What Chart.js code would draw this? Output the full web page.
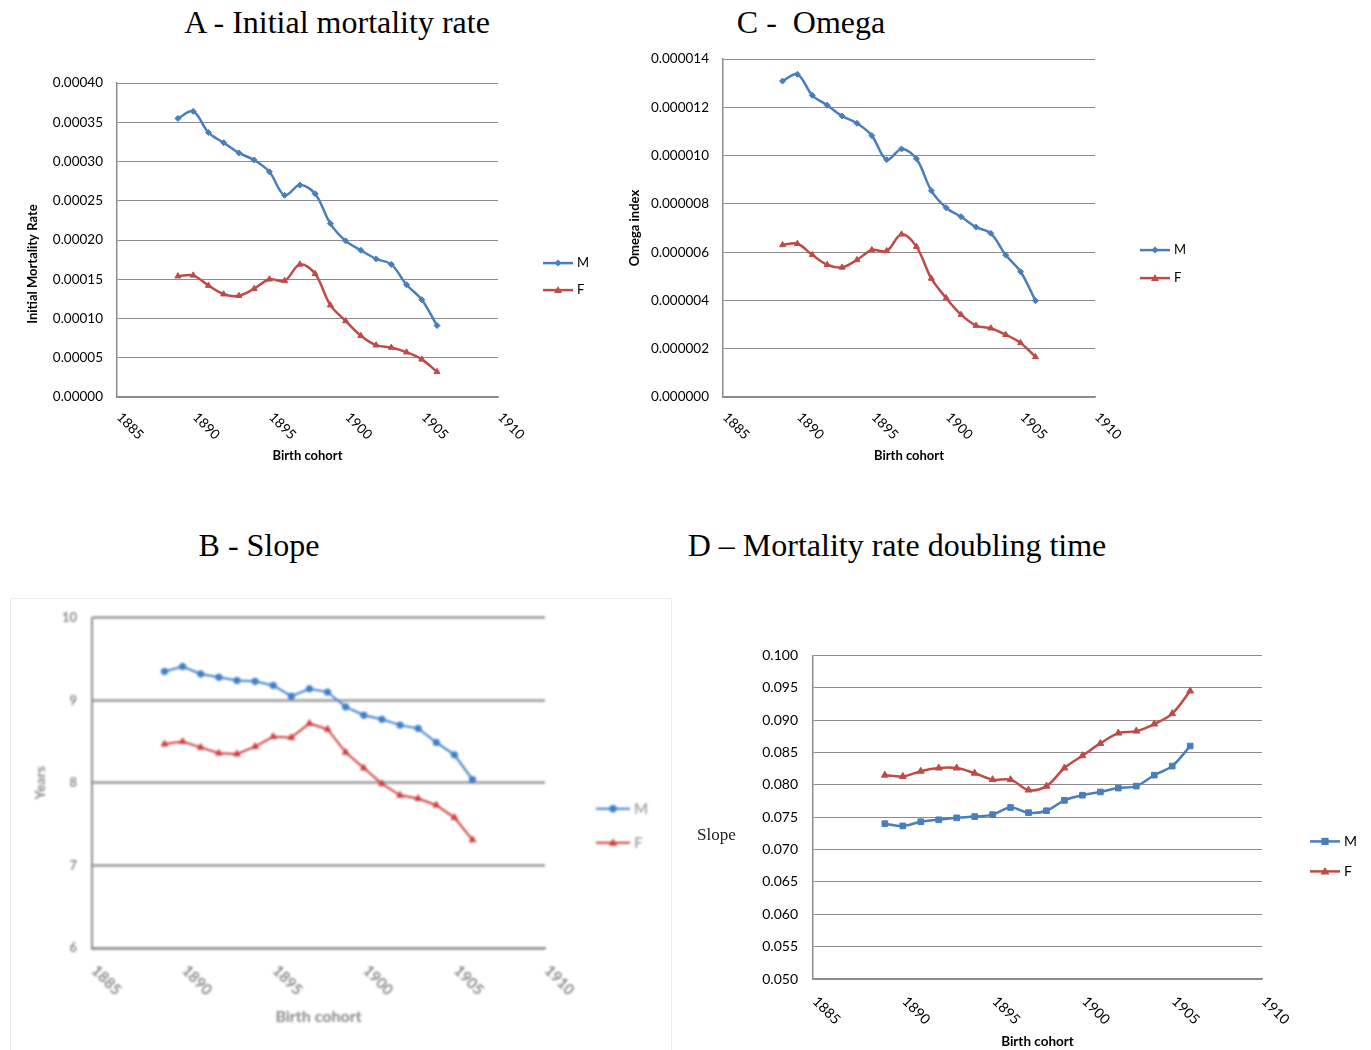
<!DOCTYPE html>
<html>
<head>
<meta charset="utf-8">
<script src="https://cdn.jsdelivr.net/npm/chart.js@4.4.1/dist/chart.umd.min.js"></script>
<style>
html, body { margin: 0; padding: 0; background: #fff; width: 1371px; height: 1050px; overflow: hidden; }
canvas { position: absolute; }
.ttl { position: absolute; font-family: "Liberation Serif", "Times New Roman", serif; font-size: 32px; line-height: 36px; color: #000; white-space: nowrap; transform: translateX(-50%); }
#frameB { position: absolute; left: 10px; top: 598px; width: 660px; height: 460px; border: 1px solid #ececec; }
#chartB { filter: blur(0.8px); }
</style>
</head>
<body>
<div class="ttl" style="left:337px; top:4px;">A - Initial mortality rate</div>
<div class="ttl" style="left:811px; top:4px;">C -&nbsp; Omega</div>
<div class="ttl" style="left:259px; top:527px;">B - Slope</div>
<div class="ttl" style="left:897px; top:527px;">D – Mortality rate doubling time</div>
<div id="frameB"></div>
<canvas id="chartA"></canvas>
<canvas id="chartC"></canvas>
<canvas id="chartB"></canvas>
<canvas id="chartD"></canvas>

<script>
// birth cohorts and x-axis labels
var years = [1889, 1890, 1891, 1892, 1893, 1894, 1895, 1896, 1897, 1898, 1899, 1900, 1901, 1902, 1903, 1904, 1905, 1906];
var xTicks = [1885, 1890, 1895, 1900, 1905, 1910];

// A - initial mortality rate
var initRateM = [0.000355, 0.000364, 0.000337, 0.000324, 0.000311, 0.000302, 0.000287, 0.000257, 0.000270, 0.000259, 0.000221, 0.000199, 0.000187, 0.000176, 0.000169, 0.000143, 0.000124, 0.000091];
var initRateF = [0.000154, 0.000155, 0.000142, 0.000131, 0.000129, 0.000138, 0.000150, 0.000148, 0.000169, 0.000157, 0.000117, 0.000097, 0.000078, 0.000066, 0.000063, 0.000057, 0.000048, 0.000032];

// C - omega index
var omegaM = [13.09e-6, 13.37e-6, 12.50e-6, 12.09e-6, 11.64e-6, 11.34e-6, 10.83e-6, 9.83e-6, 10.28e-6, 9.87e-6, 8.55e-6, 7.84e-6, 7.47e-6, 7.04e-6, 6.78e-6, 5.88e-6, 5.19e-6, 3.99e-6];
var omegaF = [6.30e-6, 6.35e-6, 5.89e-6, 5.48e-6, 5.37e-6, 5.68e-6, 6.09e-6, 6.05e-6, 6.74e-6, 6.23e-6, 4.91e-6, 4.10e-6, 3.41e-6, 2.96e-6, 2.85e-6, 2.58e-6, 2.24e-6, 1.66e-6];

// B - slope (years)
var slopeM = [9.35, 9.41, 9.32, 9.28, 9.24, 9.23, 9.18, 9.05, 9.14, 9.10, 8.92, 8.82, 8.77, 8.70, 8.66, 8.49, 8.34, 8.04];
var slopeF = [8.47, 8.50, 8.43, 8.36, 8.35, 8.44, 8.56, 8.55, 8.72, 8.65, 8.37, 8.18, 7.99, 7.85, 7.81, 7.73, 7.58, 7.31];

// D - mortality rate doubling time
var doublingM = [0.0740, 0.07365, 0.0743, 0.0746, 0.0749, 0.0751, 0.0754, 0.0765, 0.0757, 0.0760, 0.0776, 0.0784, 0.0789, 0.0795, 0.0798, 0.0815, 0.0829, 0.0860];
var doublingF = [0.0815, 0.0813, 0.0821, 0.0826, 0.0826, 0.0818, 0.0808, 0.0808, 0.0792, 0.0798, 0.0826, 0.0845, 0.0864, 0.0880, 0.0883, 0.0894, 0.0910, 0.0945];

var BLUE = '#4a7ebb';
var RED = '#be4b48';

function drawMarker(ctx, style, x, y, r) {
    ctx.beginPath();
    if (style === 'rectRot') {
        ctx.moveTo(x, y - r); ctx.lineTo(x + r, y); ctx.lineTo(x, y + r); ctx.lineTo(x - r, y);
    } else if (style === 'triangle') {
        ctx.moveTo(x, y - r); ctx.lineTo(x + r, y + r * 0.7); ctx.lineTo(x - r, y + r * 0.7);
    } else if (style === 'rect') {
        ctx.rect(x - r * 0.8, y - r * 0.8, r * 1.6, r * 1.6);
    } else {
        ctx.arc(x, y, r, 0, Math.PI * 2);
    }
    ctx.closePath();
    ctx.fill();
}

// rotated x labels, legend and extra axis text
var extras = {
    id: 'extras',
    afterDraw: function(chart, args, o) {
        var ctx = chart.ctx, area = chart.chartArea, xs = chart.scales.x;
        ctx.save();
        ctx.fillStyle = o.color;
        ctx.font = o.tickFont;
        ctx.textAlign = 'left';
        ctx.textBaseline = 'middle';
        xTicks.forEach(function(v) {
            ctx.save();
            ctx.translate(xs.getPixelForValue(v) + 2, area.bottom + o.tickGap);
            ctx.rotate(Math.PI / 4);
            ctx.fillText(String(v), 0, 0);
            ctx.restore();
        });

        chart.data.datasets.forEach(function(ds, i) {
            var x0 = area.right + o.legX, y = area.top + o.legY + i * o.legGap;
            ctx.strokeStyle = ds.borderColor;
            ctx.fillStyle = ds.borderColor;
            ctx.lineWidth = ds.borderWidth;
            ctx.beginPath();
            ctx.moveTo(x0, y);
            ctx.lineTo(x0 + o.legLen, y);
            ctx.stroke();
            drawMarker(ctx, ds.pointStyle, x0 + o.legLen / 2, y, ds.pointRadius + 0.5);
            ctx.fillStyle = o.legColor;
            ctx.font = o.legFont;
            ctx.fillText(ds.label, x0 + o.legLen + 4, y);
        });

        if (o.sideTitle) {
            ctx.fillStyle = o.sideColor || '#222';
            ctx.font = o.sideFont;
            if (o.sideRotate) {
                ctx.save();
                ctx.translate(area.left + o.sideX, area.top + o.sideY);
                ctx.rotate(-Math.PI / 2);
                ctx.textAlign = 'center';
                ctx.fillText(o.sideTitle, 0, 0);
                ctx.restore();
            } else {
                ctx.fillText(o.sideTitle, area.left + o.sideX, area.top + o.sideY);
            }
        }
        ctx.restore();
    }
};

function series(label, values, color, style, radius, width, tension) {
    return {
        label: label,
        data: years.map(function(y, i) { return { x: y, y: values[i] }; }),
        borderColor: color,
        backgroundColor: color,
        pointBackgroundColor: color,
        pointBorderColor: color,
        pointStyle: style,
        pointRadius: radius,
        pointBorderWidth: 1,
        borderWidth: width,
        tension: tension,
        fill: false
    };
}

function makeChart(id, geo, datasets, yOpt, look) {
    var canvas = document.getElementById(id);
    var w = geo.r - geo.l + geo.yW + geo.padR;
    var h = geo.b - geo.t + geo.padT + geo.xH;
    canvas.width = w;
    canvas.height = h;
    canvas.style.left = (geo.l - geo.yW) + 'px';
    canvas.style.top = (geo.t - geo.padT) + 'px';

    return new Chart(canvas.getContext('2d'), {
        type: 'line',
        data: { datasets: datasets },
        plugins: [extras],
        options: {
            responsive: false,
            animation: false,
            layout: { padding: { left: 0, top: geo.padT, right: geo.padR, bottom: 0 } },
            plugins: {
                legend: { display: false },
                tooltip: { enabled: false },
                extras: look.extras
            },
            scales: {
                x: {
                    type: 'linear',
                    min: 1885,
                    max: 1910,
                    ticks: { display: false, stepSize: 5 },
                    grid: { display: false },
                    border: { display: true, color: look.axisColor, width: look.axisWidth },
                    title: {
                        display: true,
                        text: 'Birth cohort',
                        color: look.textColor,
                        font: look.xTitleFont,
                        padding: { top: 0, bottom: geo.xTitlePad }
                    },
                    afterFit: function(s) { s.height = geo.xH; }
                },
                y: {
                    min: yOpt.min,
                    max: yOpt.max,
                    ticks: {
                        stepSize: yOpt.step,
                        color: look.textColor,
                        font: look.tickFont,
                        padding: geo.tickPad,
                        callback: yOpt.format
                    },
                    grid: { color: look.gridColor, lineWidth: look.gridWidth, drawTicks: false },
                    border: { display: true, color: look.axisColor, width: look.axisWidth },
                    title: {
                        display: !!yOpt.title,
                        text: yOpt.title || '',
                        color: look.textColor,
                        font: look.yTitleFont,
                        padding: { top: geo.yTitlePad, bottom: 0 }
                    },
                    afterFit: function(s) { s.width = geo.yW; }
                }
            }
        }
    });
}

var SANS = 'Lato, "Liberation Sans", Arial, sans-serif';

// A - Initial mortality rate
makeChart('chartA',
    { l: 117, t: 81, r: 498, b: 397, yW: 110, padT: 20, padR: 100, xH: 75, tickPad: 14, yTitlePad: 18, xTitlePad: 8 },
    [series('M', initRateM, BLUE, 'rectRot', 3, 2.5, 0.35), series('F', initRateF, RED, 'triangle', 3.5, 2.5, 0.35)],
    { min: 0, max: 0.0004, step: 0.00005, title: '', format: function(v) { return v.toFixed(5); } },
    {
        textColor: '#000', gridColor: '#8c8c8c', gridWidth: 1, axisColor: '#8c8c8c', axisWidth: 1.5,
        tickFont: { family: SANS, size: 13.5 }, xTitleFont: { family: SANS, size: 13, weight: 'bold' }, yTitleFont: { family: SANS, size: 13, weight: 'bold' },
        extras: { color: '#000', tickFont: '13.5px ' + SANS, tickGap: 18, legX: 45, legY: 180, legGap: 27, legLen: 30, legColor: '#000', legFont: '13px ' + SANS,
            sideTitle: 'Initial Mortality Rate', sideRotate: true, sideX: -84, sideY: 181, sideColor: '#000', sideFont: 'bold 13px ' + SANS }
    });

// C - Omega
makeChart('chartC',
    { l: 723, t: 57, r: 1095, b: 397, yW: 100, padT: 20, padR: 100, xH: 75, tickPad: 14, yTitlePad: 4, xTitlePad: 8 },
    [series('M', omegaM, BLUE, 'rectRot', 3, 2.5, 0.35), series('F', omegaF, RED, 'triangle', 3.5, 2.5, 0.35)],
    { min: 0, max: 0.000014, step: 0.000002, title: 'Omega index', format: function(v) { return v.toFixed(6); } },
    {
        textColor: '#000', gridColor: '#8c8c8c', gridWidth: 1, axisColor: '#8c8c8c', axisWidth: 1.5,
        tickFont: { family: SANS, size: 13.5 }, xTitleFont: { family: SANS, size: 13, weight: 'bold' }, yTitleFont: { family: SANS, size: 13, weight: 'bold' },
        extras: { color: '#000', tickFont: '13.5px ' + SANS, tickGap: 18, legX: 45, legY: 191, legGap: 28, legLen: 30, legColor: '#000', legFont: '13px ' + SANS }
    });

// B - Slope
makeChart('chartB',
    { l: 92, t: 615, r: 545, b: 948, yW: 80, padT: 20, padR: 120, xH: 80, tickPad: 15, yTitlePad: 20, xTitlePad: 2 },
    [series('M', slopeM, '#3f7fc9', 'circle', 3.2, 2, 0), series('F', slopeF, '#d03c3c', 'triangle', 3.8, 2, 0)],
    { min: 6, max: 10, step: 1, title: 'Years', format: function(v) { return String(v); } },
    {
        textColor: '#8a8a8a', gridColor: '#a9a9a9', gridWidth: 3, axisColor: '#8e8e8e', axisWidth: 2,
        tickFont: { family: SANS, size: 13, weight: 'bold' }, xTitleFont: { family: SANS, size: 16, weight: 'bold' }, yTitleFont: { family: SANS, size: 14, weight: 'bold' },
        extras: { color: '#8a8a8a', tickFont: 'bold 15px ' + SANS, tickGap: 20, legX: 51, legY: 191, legGap: 34, legLen: 34, legColor: '#aaa', legFont: 'bold 15px ' + SANS }
    });

// D - Mortality rate doubling time
makeChart('chartD',
    { l: 813, t: 652, r: 1262, b: 979, yW: 120, padT: 20, padR: 108, xH: 75, tickPad: 15, yTitlePad: 0, xTitlePad: 4 },
    [series('M', doublingM, BLUE, 'rect', 4, 2.5, 0.35), series('F', doublingF, RED, 'triangle', 4, 2.5, 0.35)],
    { min: 0.05, max: 0.1, step: 0.005, title: '', format: function(v) { return v.toFixed(3); } },
    {
        textColor: '#000', gridColor: '#8c8c8c', gridWidth: 1, axisColor: '#8c8c8c', axisWidth: 1.5,
        tickFont: { family: SANS, size: 14 }, xTitleFont: { family: SANS, size: 13.5, weight: 'bold' }, yTitleFont: { family: SANS, size: 13 },
        extras: { color: '#000', tickFont: '14px ' + SANS, tickGap: 20, legX: 48, legY: 186, legGap: 30, legLen: 30, legColor: '#000', legFont: '14px ' + SANS,
            sideTitle: 'Slope', sideX: -116, sideY: 180, sideFont: '17px "Liberation Serif", "Times New Roman", serif' }
    });
</script>
</body>
</html>
